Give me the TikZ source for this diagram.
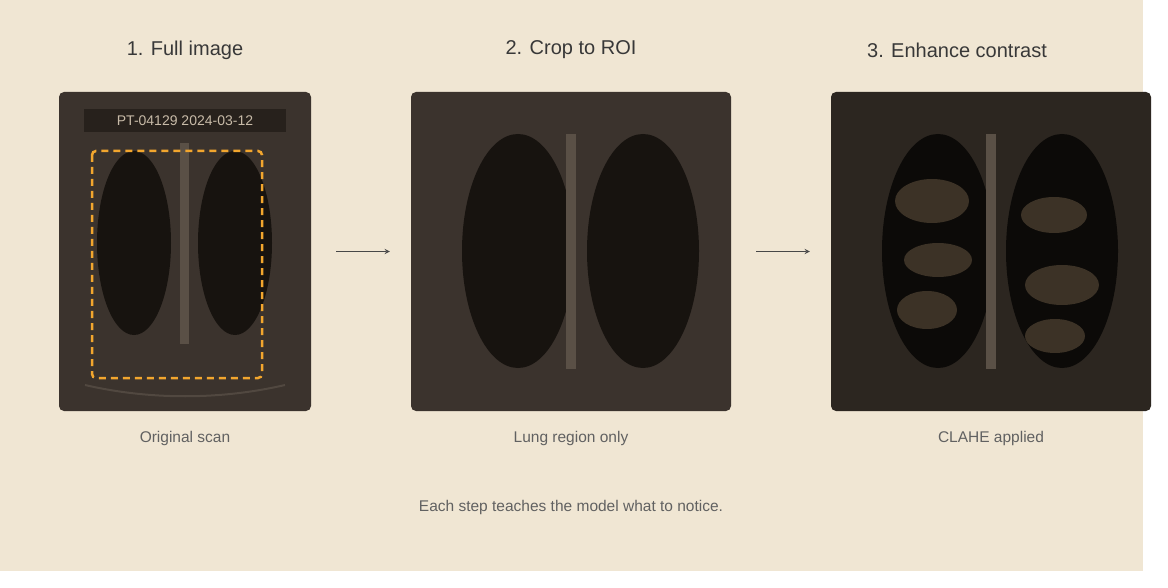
\documentclass[tikz,border=0pt]{standalone}
\usepackage{fontspec}
\setmainfont{Liberation Sans}
\begin{document}
\begin{tikzpicture}[x=1pt,y=-1pt,
  title/.style={font=\fontsize{20}{24}\selectfont,text=black!78},
  captext/.style={font=\fontsize{15.5}{18}\selectfont,text=black!62},
  panel/.style={rounded corners=5pt},
  lung/.style={fill=lungc},
  spine/.style={fill=spinec},
  blob/.style={fill=blobc},
  arr/.style={->,>=stealth,line width=1.3pt,draw=black!72}]
\definecolor{bg}{HTML}{F0E6D3}
\definecolor{panelc}{HTML}{3B332D}
\definecolor{panelk}{HTML}{2C2620}
\definecolor{lungc}{HTML}{17130F}
\definecolor{lungk}{HTML}{0C0A08}
\definecolor{spinec}{HTML}{5A5046}
\definecolor{blobc}{HTML}{3C3226}
\definecolor{orng}{HTML}{F2A62E}
\definecolor{lblbg}{HTML}{27211C}
\definecolor{lbltx}{HTML}{C8BBA8}
\definecolor{arcc}{HTML}{514840}
\useasboundingbox (0,0) rectangle (1168,588);
\fill[white] (0,0) rectangle (1168,588);
\fill[bg] (0,0) rectangle (1143,571);
% titles
\node[title] (t1) at (185,50) {1. Full image};
\node[title] (t2) at (571,50) {2. Crop to ROI};
\node[title] (t3) at (957,50) {3. Enhance contrast};
% panel 1
\fill[panelc,panel] (59,92) rectangle (311,411);
\node[fill=lblbg,minimum width=202pt,minimum height=23pt,inner sep=0pt,text=lbltx,font=\fontsize{14}{16}\selectfont] (lbl) at (185,120.5) {PT-04129 2024-03-12};
\fill[spine] (180,143) rectangle (189,344);
\fill[lung] (134,243) ellipse (37 and 92);
\fill[lung] (235,243) ellipse (37 and 92);
\draw[orng,line width=2.5pt,dash pattern=on 7pt off 5pt,rounded corners=4pt] (92,151) rectangle (262,378);
\draw[arcc,line width=2pt] (85,385) .. controls (150,400) and (220,400) .. (285,385);
\node[minimum width=252pt,minimum height=319pt,inner sep=0pt] (p1) at (185,251.5) {};
% panel 2
\fill[panelc,panel] (411,92) rectangle (731,411);
\fill[lung] (518,251) ellipse (56 and 117);
\fill[lung] (643,251) ellipse (56 and 117);
\fill[spine] (566,134) rectangle (576,369);
\node[minimum width=320pt,minimum height=319pt,inner sep=0pt] (p2) at (571,251.5) {};
% panel 3
\fill[panelk,panel] (831,92) rectangle (1151,411);
\fill[lungk] (938,251) ellipse (56 and 117);
\fill[lungk] (1062,251) ellipse (56 and 117);
\fill[spine] (986,134) rectangle (996,369);
\fill[blob] (932,201) ellipse (37 and 22);
\fill[blob] (938,260) ellipse (34 and 17);
\fill[blob] (927,310) ellipse (30 and 19);
\fill[blob] (1054,215) ellipse (33 and 18);
\fill[blob] (1062,285) ellipse (37 and 20);
\fill[blob] (1055,336) ellipse (30 and 17);
\node[minimum width=320pt,minimum height=319pt,inner sep=0pt] (p3) at (991,251.5) {};
% arrows
\draw[arr] ([xshift=25pt]p1.east) -- ([xshift=-21pt]p2.west);
\draw[arr] ([xshift=25pt]p2.east) -- ([xshift=-21pt]p3.west);
% captions
\node[captext] (c1) at (185,438) {Original scan};
\node[captext] (c2) at (571,438) {Lung region only};
\node[captext] (c3) at (991,438) {CLAHE applied};
\node[captext] (foot) at (571,507) {Each step teaches the model what to notice.};
\end{tikzpicture}
\end{document}
